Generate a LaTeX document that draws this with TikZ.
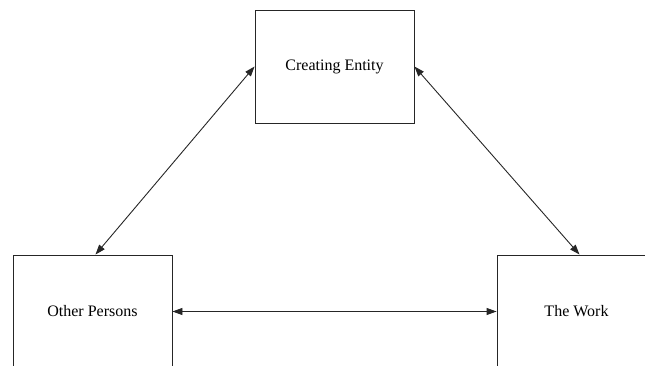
\documentclass[tikz,border=0pt]{standalone}
\usepackage{fontspec}
\setmainfont{Liberation Serif}
\usetikzlibrary{arrows.meta}
\begin{document}
\begin{tikzpicture}[x=1pt,y=-1pt,
  entity/.style={draw=black!85,line width=0.9pt,minimum width=159pt,minimum height=113pt,
    inner sep=0pt,font=\fontsize{16}{19}\selectfont},
  link/.style={draw=black!85,line width=0.9pt,{Triangle[length=10pt,width=7pt]}-{Triangle[length=10pt,width=7pt]}}]
  \useasboundingbox (0,0) rectangle (645,366);
  \clip (0,0) rectangle (645,366);
  \node[entity] (creator) at (334.5,66.5) {Creating Entity};
  \node[entity] (others) at (92.5,311.5) {Other Persons};
  \node[entity] (work) at (576.5,311.5) {The Work};
  \draw[link] (others.east) -- (work.west);
  \draw[link] (creator.west) -- ([xshift=3pt]others.north);
  \draw[link] (creator.east) -- ([xshift=3pt]work.north);
\end{tikzpicture}
\end{document}
